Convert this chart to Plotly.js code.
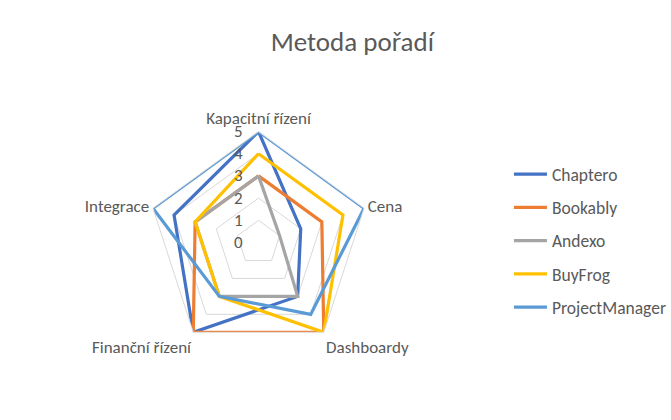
<!DOCTYPE html>
<html>
<head>
<meta charset="utf-8">
<script src="https://cdn.plot.ly/plotly-3.0.1.min.js"></script>
<style>html,body{margin:0;padding:0;background:#fff;}#chart{width:671px;height:420px;}</style>
</head>
<body>
<div id="chart"></div>
<script>
var categories = ["Kapacitní řízení", "Cena", "Dashboardy", "Finanční řízení", "Integrace"];
var seriesNames = ["Chaptero", "Bookably", "Andexo", "BuyFrog", "ProjectManager"];
var chaptero = [5, 2, 3, 5, 4];
var bookably = [3, 3, 5, 5, 3];
var andexo = [3, 1, 3, 3, 3];
var buyfrog = [4, 4, 5, 3, 3];
var projectManager = [5, 5, 4, 3, 5];
var radialTicks = [0, 1, 2, 3, 4, 5];
var colors = ["#4472C4", "#ED7D31", "#A5A5A5", "#FFC000", "#5B9BD5"];

var allValues = [chaptero, bookably, andexo, buyfrog, projectManager];
var traces = allValues.map(function (vals, i) {
  return {
    type: "scatterpolar",
    r: vals.concat([vals[0]]),
    theta: categories.concat([categories[0]]),
    mode: "lines",
    name: seriesNames[i],
    legendgroup: "g" + i,
    line: {color: colors[i], width: 3.2},
    hoverinfo: "skip"
  };
});

var font = "Carlito, Calibri, Lato, sans-serif";
var layout = {
  width: 671, height: 420,
  margin: {l: 0, r: 0, t: 0, b: 0, autoexpand: false},
  paper_bgcolor: "#ffffff",
  font: {family: font, color: "#595959", size: 17},
  title: {text: "Metoda pořadí", x: 0.525, xanchor: "center", y: 0.9, yanchor: "middle",
          font: {family: font, size: 27, color: "#595959"}},
  showlegend: true,
  legend: {x: 0.7585, xanchor: "left", y: 0.427, yanchor: "middle",
           traceorder: "grouped", tracegroupgap: 7.5, itemwidth: 33,
           font: {family: font, size: 17.5, color: "#595959"}},
  polar: {
    domain: {x: [0.2198, 0.5507], y: [0.1583, 0.6869]},
    gridshape: "linear",
    bgcolor: "rgba(0,0,0,0)",
    angularaxis: {
      direction: "clockwise", rotation: 90,
      showgrid: false, linecolor: "#D9D9D9", linewidth: 1,
      ticks: "", tickfont: {family: font, size: 17, color: "#595959"}
    },
    radialaxis: {
      range: [0, 5], angle: 90, tickangle: 90,
      tickvals: radialTicks, ticktext: radialTicks.map(function (v) { return v + "\u2002\u2005"; }),
      showline: false, ticks: "", gridcolor: "#D9D9D9", gridwidth: 1,
      side: "counterclockwise",
      tickfont: {family: font, size: 17, color: "#595959"}
    }
  }
};

Plotly.newPlot("chart", traces, layout, {displayModeBar: false, staticPlot: true});
</script>
</body>
</html>
